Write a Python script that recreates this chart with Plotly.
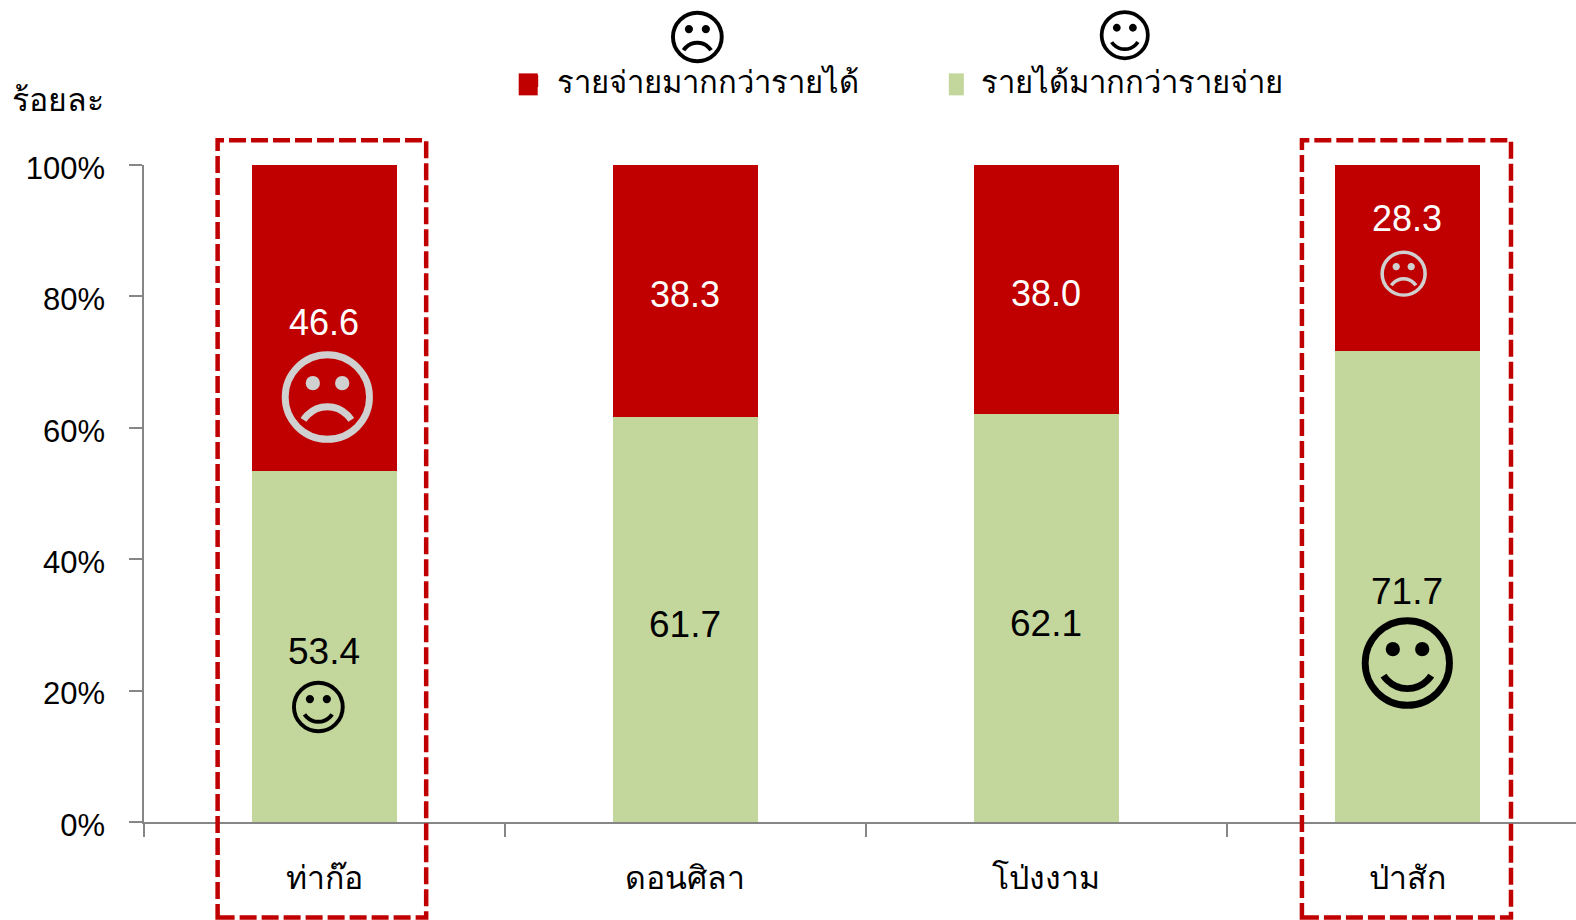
import plotly.graph_objects as go

W, H = 1576, 920
L, R, T, B = 144.4, 1576, 164.7, 822.3

categories = ["ท่าก๊อ", "ดอนศิลา", "โป่งงาม", "ป่าสัก"]
income_more = [53.4, 61.7, 62.1, 71.7]
expense_more = [46.6, 38.3, 38.0, 28.3]
series_names = ["รายได้มากกว่ารายจ่าย", "รายจ่ายมากกว่ารายได้"]
y_title = "ร้อยละ"
y_ticks = [0, 20, 40, 60, 80, 100]
y_labels = ["0%", "20%", "40%", "60%", "80%", "100%"]

RED = "#C00000"
GREEN = "#C3D69B"
AXIS = "#868686"
NUM_FONT = "Liberation Sans"
THAI_FONT = "Liberation Sans, Noto Sans, sans-serif"


def px(x):
    return (x - L) / (R - L)


def py(y):
    return (B - y) / (B - T)


fig = go.Figure()
fig.add_bar(x=categories, y=income_more, name=series_names[0], marker_color=GREEN, width=0.4, marker_line_width=0)
fig.add_bar(x=categories, y=expense_more, name=series_names[1], marker_color=RED, width=0.4, marker_line_width=0)

annotations = []
for i, c in enumerate(categories):
    annotations.append(dict(x=c, y=income_more[i] / 2, text=f"{income_more[i]:.1f}", showarrow=False, yshift=-5,
                            font=dict(family=NUM_FONT, size=37, color="black")))
    base = 100 - expense_more[i]
    pos = base + expense_more[i] / 2
    shift = -4
    if i == 3:
        shift = 39
    annotations.append(dict(x=c, y=pos, text=f"{expense_more[i]:.1f}", showarrow=False, yshift=shift,
                            font=dict(family=NUM_FONT, size=36, color="white")))

faces = [("☹", 698, 38, 60, "black"), ("☺", 1125, 36, 57, "black"),
         ("☹", 327, 399, 104, "#D0D0D0"), ("☺", 319, 708, 60, "black"),
         ("☹", 1404, 274, 53, "#D0D0D0"), ("☺", 1407, 665, 104, "black")]
for g, x, y, s, col in faces:
    annotations.append(dict(xref="paper", yref="paper", x=px(x), y=py(y), text=g, showarrow=False,
                            xanchor="center", yanchor="middle",
                            font=dict(family="DejaVu Sans", size=s, color=col)))

annotations.append(dict(xref="paper", yref="paper", x=px(10), y=py(100), text=y_title, showarrow=False,
                        xanchor="left", yanchor="middle", font=dict(family=THAI_FONT, size=32, color="black")))

shapes = []
for x0, x1 in [(218, 426.5), (1302, 1511)]:
    shapes.append(dict(type="rect", xref="paper", yref="paper", x0=px(x0), x1=px(x1), y0=py(918), y1=py(140),
                       line=dict(color=RED, width=4.5, dash="17px,5px"), layer="above"))
# enlarge the legend swatches to the size in the reference
for x0, x1, col in [(519, 538, RED), (949, 964, GREEN)]:
    shapes.append(dict(type="rect", xref="paper", yref="paper", x0=px(x0), x1=px(x1), y0=py(95), y1=py(73),
                       line_width=0, fillcolor=col, layer="above"))

fig.update_layout(
    width=W, height=H, autosize=False,
    margin=dict(l=L, r=W - R, t=T, b=H - B, pad=0),
    paper_bgcolor="white", plot_bgcolor="white",
    barmode="stack", barnorm="percent",
    showlegend=True,
    legend=dict(orientation="h", traceorder="reversed", x=px(507.5), y=py(81), xanchor="left", yanchor="middle",
                itemwidth=40,
                font=dict(family=THAI_FONT, size=31, color="black"), entrywidth=369, entrywidthmode="pixels",
                bgcolor="rgba(0,0,0,0)"),
    annotations=annotations,
    shapes=shapes,
    xaxis=dict(type="category", categoryorder="array", categoryarray=categories,
               range=[-0.5, 3.467], tickson="boundaries", ticks="outside", ticklen=13, tickwidth=1.5, tickcolor=AXIS,
               showline=True, linecolor=AXIS, linewidth=2, showgrid=False,
               ticklabelstandoff=27,
               tickfont=dict(family=THAI_FONT, size=32, color="black")),
    yaxis=dict(range=[0, 100], tickmode="array", tickvals=y_ticks, ticktext=y_labels, ticks="outside", ticklen=13,
               tickwidth=1.5, tickcolor=AXIS, showline=True, linecolor=AXIS, linewidth=1.5, showgrid=False,
               zeroline=False, ticklabelstandoff=18, ticklabelshift=3,
               tickfont=dict(family=NUM_FONT, size=31, color="black")),
)

fig.write_html("out.html", post_script="document.body.style.margin='0';", config={"displayModeBar": False})
